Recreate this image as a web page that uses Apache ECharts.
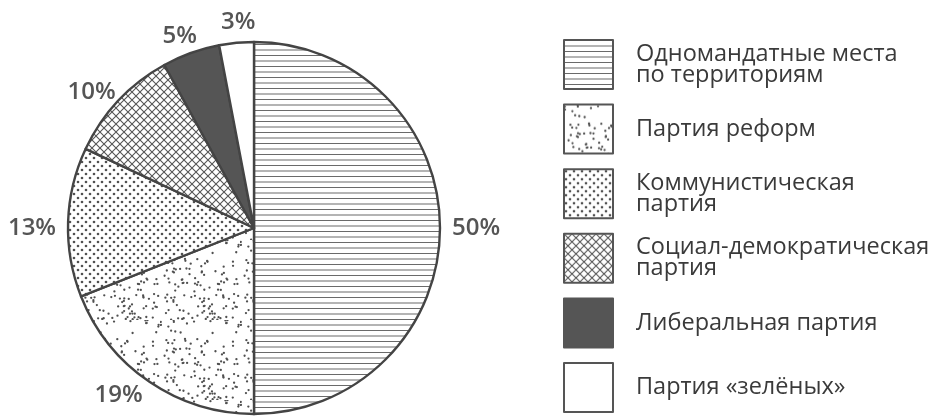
<!DOCTYPE html>
<html>
<head>
<meta charset="utf-8">
<script src="https://cdn.jsdelivr.net/npm/echarts@6/dist/echarts.min.js"></script>
<style>
html,body{margin:0;padding:0;background:#fff;}
#chart{width:942px;height:417px;}
</style>
</head>
<body>
<div id="chart"></div>
<script>
// ---- data ----
var categories = [
  'Одномандатные места\nпо территориям',
  'Партия реформ',
  'Коммунистическая\nпартия',
  'Социал-демократическая\nпартия',
  'Либеральная партия',
  'Партия «зелёных»'
];
var values = [50, 19, 13, 10, 5, 3];
var valueLabels = ['50%', '19%', '13%', '10%', '5%', '3%'];

// ---- fill textures (style only) ----
function tile(w, h, draw) {
  var c = document.createElement('canvas');
  c.width = w; c.height = h;
  var g = c.getContext('2d');
  g.fillStyle = '#fff'; g.fillRect(0, 0, w, h);
  draw(g, w, h);
  return {image: c, repeat: 'repeat'};
}
function mulberry32(a) {
  return function () {
    a |= 0; a = a + 0x6D2B79F5 | 0;
    var t = Math.imul(a ^ a >>> 15, 1 | a);
    t = t + Math.imul(t ^ t >>> 7, 61 | t) ^ t;
    return ((t ^ t >>> 14) >>> 0) / 4294967296;
  };
}
var patHLines = tile(10, 11, function (g, w, h) {
  g.fillStyle = '#6a6a6a';
  g.fillRect(0, 0, w, 1);
  g.fillRect(0, 5.5, w, 1);
});
var patSpeckle = tile(80, 80, function (g, w, h) {
  g.fillStyle = '#505050';
  var rnd = mulberry32(7); // fixed seed: texture only
  for (var i = 0; i < 140; i++) {
    var x = rnd() * w, y = rnd() * h;
    g.beginPath(); g.arc(x, y, 1.15, 0, Math.PI * 2); g.fill();
  }
});
var patDots = tile(8, 8, function (g) {
  g.fillStyle = '#505050';
  [[2, 2], [6, 6]].forEach(function (p) {
    g.beginPath(); g.arc(p[0], p[1], 1.3, 0, Math.PI * 2); g.fill();
  });
});
var patCross = tile(8, 8, function (g, w, h) {
  g.strokeStyle = '#555'; g.lineWidth = 1.1;
  g.beginPath();
  g.moveTo(-1, -1); g.lineTo(w + 1, h + 1);
  g.moveTo(w + 1, -1); g.lineTo(-1, h + 1);
  g.stroke();
});
var fills = [patHLines, patSpeckle, patDots, patCross, '#555555', '#ffffff'];
var labelOffsets = [[0, 0], [0, 3], [0, 6], [6, 0], [10, -6], [20, -9]];

var seriesData = categories.map(function (name, i) {
  return {
    name: name,
    value: values[i],
    itemStyle: {color: fills[i]},
    label: {offset: labelOffsets[i]}
  };
});

var chart = echarts.init(document.getElementById('chart'), null, {renderer: 'canvas'});
chart.setOption({
  animation: false,
  backgroundColor: '#fff',
  legend: {
    orient: 'vertical',
    left: 563,
    top: 39,
    padding: 0,
    itemWidth: 49,
    itemHeight: 49,
    itemGap: 13.6,
    icon: 'rect',
    selectedMode: false,
    itemStyle: {borderColor: '#555', borderWidth: 2},
    textStyle: {
      fontFamily: 'Open Sans',
      fontSize: 23.5,
      lineHeight: 21,
      color: '#3a3a3a',
      padding: [0, 0, 0, 18]
    },
    data: categories
  },
  series: [{
    type: 'pie',
    center: [254, 228],
    radius: 186,
    startAngle: 90,
    clockwise: true,
    avoidLabelOverlap: false,
    itemStyle: {borderColor: '#444', borderWidth: 2.4},
    emphasis: {disabled: true},
    label: {
      show: true,
      position: 'outside',
      distanceToLabelLine: 0,
      fontFamily: 'Open Sans',
      fontWeight: 600,
      fontSize: 24,
      color: '#555',
      formatter: function (p) { return valueLabels[p.dataIndex]; }
    },
    labelLine: {show: false, length: 12, length2: 0},
    data: seriesData
  }]
});
</script>
</body>
</html>
